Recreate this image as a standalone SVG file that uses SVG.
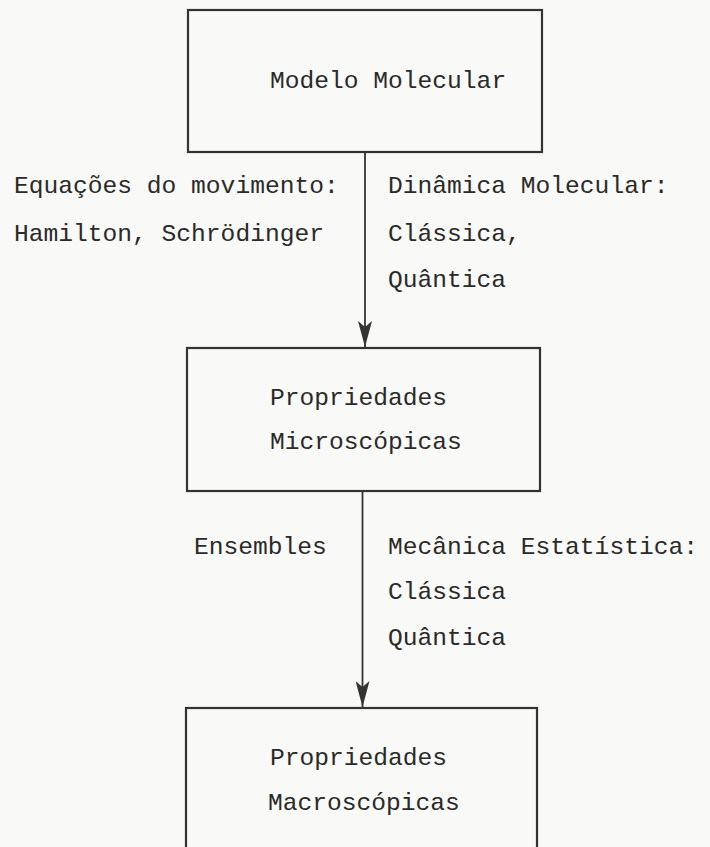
<svg xmlns="http://www.w3.org/2000/svg" width="710" height="847" viewBox="0 0 710 847">
<defs>
<style>
.box{fill:none;stroke:#333;stroke-width:2.2}
.t{font-family:"Liberation Mono","DejaVu Sans Mono",monospace;font-size:24.6px;fill:#2a2a2a}
.ln{stroke:#333;stroke-width:1.8;fill:none}
</style>
<marker id="ah" viewBox="0 0 26 14" refX="26" refY="7" markerWidth="26" markerHeight="14" markerUnits="userSpaceOnUse" orient="auto">
<path d="M0,0 L26,7 L0,14 L6,7 Z" fill="#333"/>
</marker>
</defs>
<rect width="710" height="847" fill="#f9f9f7"/>
<g id="connectors">
<line class="ln" x1="365" y1="152" x2="365" y2="347" marker-end="url(#ah)"/>
<line class="ln" x1="362.5" y1="491" x2="362.5" y2="707" marker-end="url(#ah)"/>
<text class="t" x="14" y="193">Equações do movimento:</text>
<text class="t" x="14" y="241">Hamilton, Schrödinger</text>
<text class="t" x="388" y="193">Dinâmica Molecular:</text>
<text class="t" x="388" y="241">Clássica,</text>
<text class="t" x="388" y="287">Quântica</text>
<text class="t" x="194" y="554">Ensembles</text>
<text class="t" x="388" y="554">Mecânica Estatística:</text>
<text class="t" x="388" y="599">Clássica</text>
<text class="t" x="388" y="645">Quântica</text>
</g>
<g id="node1">
<rect class="box" x="188" y="10" width="354" height="142"/>
<text class="t" x="270" y="88">Modelo Molecular</text>
</g>
<g id="node2">
<rect class="box" x="187" y="348" width="353" height="143"/>
<text class="t" x="270" y="405">Propriedades</text>
<text class="t" x="270" y="449">Microscópicas</text>
</g>
<g id="node3">
<rect class="box" x="186" y="708" width="351" height="160"/>
<text class="t" x="270" y="765">Propriedades</text>
<text class="t" x="268" y="810">Macroscópicas</text>
</g>
</svg>
